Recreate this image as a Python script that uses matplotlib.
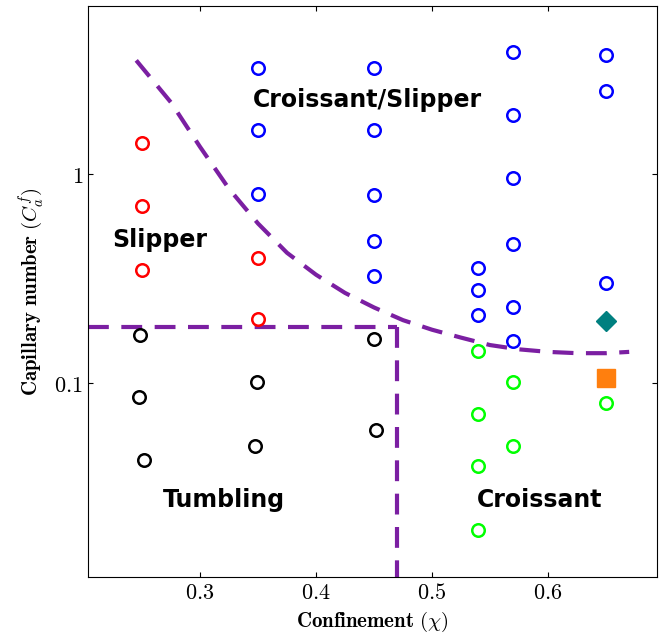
import matplotlib
matplotlib.use("Agg")
import matplotlib.pyplot as plt
from matplotlib.ticker import FixedLocator, NullLocator

plt.rcParams['mathtext.fontset'] = 'cm'
plt.rcParams['font.family'] = 'serif'
plt.rcParams['font.serif'] = ['DejaVu Serif']

blue_x = [0.35, 0.35, 0.35, 0.45, 0.45, 0.45, 0.45, 0.45, 0.54, 0.54, 0.54,
          0.57, 0.57, 0.57, 0.57, 0.57, 0.57, 0.65, 0.65, 0.65]
blue_y = [3.22, 1.62, 0.80, 3.22, 1.62, 0.79, 0.48, 0.325, 0.355, 0.28, 0.212,
          3.83, 1.92, 0.957, 0.463, 0.231, 0.159, 3.71, 2.49, 0.301]
red_x = [0.25, 0.25, 0.25, 0.35, 0.35]
red_y = [1.41, 0.70, 0.347, 0.397, 0.202]
black_x = [0.248, 0.247, 0.252, 0.349, 0.347, 0.45, 0.452]
black_y = [0.170, 0.086, 0.043, 0.101, 0.050, 0.162, 0.0595]
green_x = [0.54, 0.54, 0.54, 0.54, 0.57, 0.57, 0.65]
green_y = [0.142, 0.071, 0.040, 0.0198, 0.101, 0.050, 0.080]
diamond = (0.65, 0.198)
square = (0.65, 0.106)

curve_x = [0.245, 0.275, 0.30, 0.325, 0.35, 0.375, 0.40, 0.425, 0.45, 0.475,
           0.50, 0.525, 0.55, 0.575, 0.60, 0.625, 0.65, 0.67]
curve_y = [3.5, 2.2, 1.35, 0.85, 0.58, 0.42, 0.33, 0.27, 0.23, 0.20,
           0.18, 0.165, 0.152, 0.145, 0.141, 0.139, 0.139, 0.141]
h_y = 0.185
v_x = 0.47

fig = plt.figure(figsize=(6.64, 6.41), dpi=100)
ax = fig.add_axes([0.1325, 0.0998, 0.857, 0.8908])
ax.set_yscale('log')
ax.set_xlim(0.2034, 0.694)
ax.set_ylim(0.0118, 6.37)

purple = '#7B1FA2'
ax.plot(curve_x, curve_y, '--', color=purple, lw=3, dashes=(5, 3))
ax.plot([0.2034, v_x], [h_y, h_y], '--', color=purple, lw=3, dashes=(5, 3))
ax.plot([v_x, v_x], [h_y, 0.0118], '--', color=purple, lw=3, dashes=(5, 3))

kw = dict(marker='o', ls='none', ms=9, mew=1.8, mfc='none')
ax.plot(blue_x, blue_y, mec='#0000ff', **kw)
ax.plot(red_x, red_y, mec='#ff0000', **kw)
ax.plot(black_x, black_y, mec='black', **kw)
ax.plot(green_x, green_y, mec='#00ff00', **kw)
ax.plot(*diamond, marker='D', ms=10, color='#008080', ls='none')
ax.plot(*square, marker='s', ms=13, color='#ff7f0e', ls='none')

tf = dict(fontfamily='DejaVu Sans', fontweight='bold', fontsize=17, ha='center', va='center')
ax.text(0.444, 2.26, 'Croissant/Slipper', **tf)
ax.text(0.265, 0.483, 'Slipper', **tf)
ax.text(0.321, 0.0276, 'Tumbling', **tf)
ax.text(0.593, 0.0276, 'Croissant', **tf)

ax.xaxis.set_major_locator(FixedLocator([0.3, 0.4, 0.5, 0.6]))
ax.set_xticklabels([r'$0.3$', r'$0.4$', r'$0.5$', r'$0.6$'], fontsize=16)
ax.yaxis.set_major_locator(FixedLocator([0.1, 1]))
ax.yaxis.set_minor_locator(NullLocator())
ax.set_yticklabels([r'$0.1$', r'$1$'], fontsize=16)
ax.tick_params(direction='in', top=True, right=True)
ax.set_xlabel(r'$\mathbf{Confinement}\ (\chi)$', fontsize=15, labelpad=4)
ax.set_ylabel(r'$\mathbf{Capillary\ number}\ (C_a^f)$', fontsize=15, labelpad=6)

fig.savefig('out.png', dpi=100)
